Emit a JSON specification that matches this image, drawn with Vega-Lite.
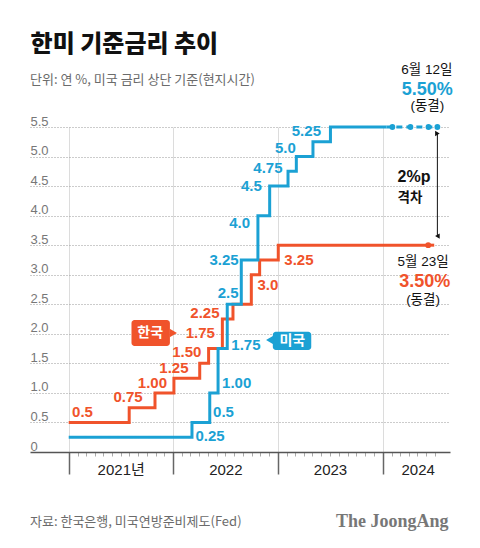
{
  "$schema": "https://vega.github.io/schema/vega-lite/v6.json",
  "width": 420,
  "height": 325,
  "autosize": {"type": "none"},
  "padding": {"left": 30, "top": 127, "right": 30, "bottom": 96},
  "background": "white",
  "config": {"view": {"stroke": null}},
  "datasets": {
    "lines": [
      {"d": "2021-01-01", "v": 0.5, "s": "kr", "seg": "solid"},
      {"d": "2021-07-31", "v": 0.75, "s": "kr", "seg": "solid"},
      {"d": "2021-10-29", "v": 1.0, "s": "kr", "seg": "solid"},
      {"d": "2022-01-03", "v": 1.25, "s": "kr", "seg": "solid"},
      {"d": "2022-04-03", "v": 1.5, "s": "kr", "seg": "solid"},
      {"d": "2022-05-04", "v": 1.75, "s": "kr", "seg": "solid"},
      {"d": "2022-06-21", "v": 2.25, "s": "kr", "seg": "solid"},
      {"d": "2022-07-28", "v": 2.5, "s": "kr", "seg": "solid"},
      {"d": "2022-09-30", "v": 3.0, "s": "kr", "seg": "solid"},
      {"d": "2022-10-29", "v": 3.25, "s": "kr", "seg": "solid"},
      {"d": "2023-01-02", "v": 3.5, "s": "kr", "seg": "solid"},
      {"d": "2024-06-08", "v": 3.5, "s": "kr", "seg": "solid"},
      {"d": "2024-06-08", "v": 3.5, "s": "kr", "seg": "dashed"},
      {"d": "2024-07-08", "v": 3.5, "s": "kr", "seg": "dashed"},
      {"d": "2021-01-01", "v": 0.25, "s": "us", "seg": "solid"},
      {"d": "2022-03-07", "v": 0.5, "s": "us", "seg": "solid"},
      {"d": "2022-05-08", "v": 1.0, "s": "us", "seg": "solid"},
      {"d": "2022-06-06", "v": 1.75, "s": "us", "seg": "solid"},
      {"d": "2022-07-08", "v": 2.5, "s": "us", "seg": "solid"},
      {"d": "2022-08-26", "v": 3.25, "s": "us", "seg": "solid"},
      {"d": "2022-10-23", "v": 4.0, "s": "us", "seg": "solid"},
      {"d": "2022-12-03", "v": 4.5, "s": "us", "seg": "solid"},
      {"d": "2023-02-05", "v": 4.75, "s": "us", "seg": "solid"},
      {"d": "2023-03-06", "v": 5.0, "s": "us", "seg": "solid"},
      {"d": "2023-05-03", "v": 5.25, "s": "us", "seg": "solid"},
      {"d": "2023-07-03", "v": 5.5, "s": "us", "seg": "solid"},
      {"d": "2024-01-14", "v": 5.5, "s": "us", "seg": "solid"},
      {"d": "2024-01-14", "v": 5.5, "s": "us", "seg": "dashed"},
      {"d": "2024-07-10", "v": 5.5, "s": "us", "seg": "dashed"}
    ],
    "dots": [
      {"d": "2024-02-04", "v": 5.5, "s": "us"},
      {"d": "2024-04-07", "v": 5.5, "s": "us"},
      {"d": "2024-06-09", "v": 5.5, "s": "us"},
      {"d": "2024-07-10", "v": 5.5, "s": "us"},
      {"d": "2024-06-08", "v": 3.5, "s": "kr"}
    ],
    "vlabels": [
      {"d": "2021-02-18", "v": 0.682, "s": "kr", "t": "0.5"},
      {"d": "2021-07-27", "v": 0.936, "s": "kr", "t": "0.75"},
      {"d": "2021-10-20", "v": 1.173, "s": "kr", "t": "1.00"},
      {"d": "2022-01-03", "v": 1.417, "s": "kr", "t": "1.25"},
      {"d": "2022-02-17", "v": 1.697, "s": "kr", "t": "1.50"},
      {"d": "2022-04-05", "v": 2.009, "s": "kr", "t": "1.75"},
      {"d": "2022-04-21", "v": 2.347, "s": "kr", "t": "2.25"},
      {"d": "2022-11-27", "v": 2.826, "s": "kr", "t": "3.0"},
      {"d": "2023-03-15", "v": 3.249, "s": "kr", "t": "3.25"},
      {"d": "2022-05-09", "v": 0.271, "s": "us", "t": "0.25"},
      {"d": "2022-06-25", "v": 0.682, "s": "us", "t": "0.5"},
      {"d": "2022-08-10", "v": 1.173, "s": "us", "t": "1.00"},
      {"d": "2022-09-11", "v": 1.811, "s": "us", "t": "1.75"},
      {"d": "2022-07-11", "v": 2.686, "s": "us", "t": "2.5"},
      {"d": "2022-06-27", "v": 3.249, "s": "us", "t": "3.25"},
      {"d": "2022-08-20", "v": 3.875, "s": "us", "t": "4.0"},
      {"d": "2022-09-30", "v": 4.502, "s": "us", "t": "4.5"},
      {"d": "2022-11-27", "v": 4.801, "s": "us", "t": "4.75"},
      {"d": "2023-01-27", "v": 5.15, "s": "us", "t": "5.0"},
      {"d": "2023-04-10", "v": 5.432, "s": "us", "t": "5.25"}
    ],
    "boxes": [
      {"d": "2021-08-08", "d2": "2021-12-20", "v": 2.234, "v2": 1.794, "s": "kr"},
      {"d": "2022-12-14", "d2": "2023-04-27", "v": 2.036, "v2": 1.726, "s": "us"}
    ],
    "tips": [
      {"d": "2022-01-01", "v": 2.014, "s": "kr"},
      {"d": "2022-12-03", "v": 1.895, "s": "us"}
    ],
    "tags": [
      {"d": "2021-10-12", "v": 2.014, "t": "한국"},
      {"d": "2023-02-20", "v": 1.881, "t": "미국"}
    ],
    "notes": [
      {"d": "2024-06-03", "v": 6.465, "t": "6월 12일"},
      {"d": "2024-06-05", "v": 5.855, "t": "(동결)"},
      {"d": "2024-05-21", "v": 3.215, "t": "5월 23일"},
      {"d": "2024-05-21", "v": 2.572, "t": "(동결)"}
    ],
    "pcts": [
      {"d": "2024-06-05", "v": 6.126, "s": "us", "t": "5.50%"},
      {"d": "2024-05-27", "v": 2.882, "s": "kr", "t": "3.50%"}
    ],
    "gap": [
      {"d": "2024-02-22", "v": 4.65, "t": "2%p"},
      {"d": "2024-02-22", "v": 4.3, "t": "격차"}
    ],
    "arrow": [
      {"d": "2024-07-10", "v": 5.4, "v2": 3.64}
    ],
    "heads": [
      {"d": "2024-07-10", "v": 5.39, "dir": "up"},
      {"d": "2024-07-10", "v": 3.655, "dir": "down"}
    ],
    "titles": [
      {"d": "2020-08-21", "v": 6.888, "t": "한미 기준금리 추이"}
    ],
    "subtitles": [
      {"d": "2020-08-19", "v": 6.296, "t": "단위: 연 %, 미국 금리 상단 기준(현지시간)"}
    ],
    "source": [
      {"d": "2020-08-19", "v": -1.185, "t": "자료: 한국은행, 미국연방준비제도(Fed)"}
    ],
    "brand": [
      {"d": "2024-08-18", "v": -1.185, "t": "The JoongAng"}
    ]
  },
  "encoding": {
    "x": {
      "field": "d",
      "type": "temporal",
      "title": null,
      "scale": {
        "type": "utc",
        "domain": [
          {"year": 2020, "month": 8, "date": 19, "utc": true},
          {"year": 2024, "month": 8, "date": 23, "utc": true}
        ]
      },
      "axis": {
        "title": null,
        "tickCount": {"interval": "month", "step": 1},
        "labelExpr": "utcmonth(datum.value) == 0 && utcyear(datum.value) >= 2021 ? (utcyear(datum.value) == 2021 ? '2021년' : '' + utcyear(datum.value)) : ''",
        "labelFont": "Liberation Sans, Noto Sans CJK KR",
        "labelFontSize": 15,
        "labelColor": "#222",
        "labelAlign": "center",
        "labelBaseline": "top",
        "labelOffset": {"condition": {"test": "utcyear(datum.value) == 2024", "value": 35}, "value": 52},
        "labelPadding": -12,
        "labelFlush": false,
        "labelOverlap": false,
        "tickSize": {"condition": {"test": "utcmonth(datum.value) == 0", "value": 22}, "value": 4},
        "tickColor": {"condition": {"test": "utcmonth(datum.value) == 0", "value": "#666"}, "value": "#aaa"},
        "tickWidth": {"condition": {"test": "utcmonth(datum.value) == 0", "value": 1.5}, "value": 1},
        "tickOpacity": {"condition": {"test": "utcyear(datum.value) < 2021 || (utcyear(datum.value) == 2024 && utcmonth(datum.value) > 6)", "value": 0}, "value": 1},
        "grid": true,
        "gridColor": "#dcdcdc",
        "gridWidth": 1,
        "gridOpacity": {"condition": {"test": "utcmonth(datum.value) == 0 && utcyear(datum.value) >= 2021", "value": 1}, "value": 0},
        "domainColor": "#555",
        "domainWidth": 1.5
      }
    },
    "y": {
      "field": "v",
      "type": "quantitative",
      "title": null,
      "scale": {"domain": [0, 5.5], "nice": false, "zero": true},
      "axis": {
        "title": null,
        "values": [0, 0.5, 1, 1.5, 2, 2.5, 3, 3.5, 4, 4.5, 5, 5.5],
        "labelExpr": "datum.value == 0 ? '0' : format(datum.value, '.1f')",
        "ticks": false,
        "tickSize": 0,
        "domain": false,
        "labelAlign": "left",
        "labelBaseline": "alphabetic",
        "labelPadding": 0,
        "labelOffset": -2,
        "labelFont": "Liberation Sans",
        "labelFontSize": 13,
        "labelColor": "#777",
        "grid": true,
        "gridDash": [1, 2],
        "gridColor": "#999",
        "gridOpacity": {"condition": {"test": "datum.value == 0", "value": 0}, "value": 1}
      }
    }
  },
  "layer": [
    {
      "data": {"name": "lines"},
      "mark": {"type": "line", "interpolate": "step-after", "strokeWidth": 3, "strokeCap": "butt"},
      "encoding": {
        "color": {"field": "s", "type": "nominal", "scale": {"domain": ["kr", "us"], "range": ["#f0532b", "#1ba1d4"]}, "legend": null},
        "strokeDash": {"field": "seg", "type": "nominal", "scale": {"domain": ["solid", "dashed"], "range": [[1, 0], [6, 4]]}, "legend": null}
      }
    },
    {
      "data": {"name": "dots"},
      "mark": {"type": "point", "filled": true, "size": 34, "opacity": 1},
      "encoding": {
        "color": {"field": "s", "type": "nominal", "scale": {"domain": ["kr", "us"], "range": ["#f0532b", "#1ba1d4"]}, "legend": null}
      }
    },
    {
      "data": {"name": "vlabels"},
      "mark": {"type": "text", "font": "Liberation Sans", "fontSize": 15, "fontWeight": "bold", "align": "center", "baseline": "middle"},
      "encoding": {
        "text": {"field": "t"},
        "color": {"field": "s", "type": "nominal", "scale": {"domain": ["kr", "us"], "range": ["#f0532b", "#1ba1d4"]}, "legend": null}
      }
    },
    {
      "data": {"name": "boxes"},
      "mark": {"type": "rect", "cornerRadius": 3},
      "encoding": {
        "x2": {"field": "d2", "title": null},
        "y2": {"field": "v2", "title": null},
        "color": {"field": "s", "type": "nominal", "scale": {"domain": ["kr", "us"], "range": ["#f0532b", "#1ba1d4"]}, "legend": null}
      }
    },
    {
      "data": {"name": "tips"},
      "mark": {"type": "point", "filled": true, "size": 70, "opacity": 1},
      "encoding": {
        "shape": {"field": "s", "type": "nominal", "scale": {"domain": ["kr", "us"], "range": ["triangle-right", "triangle-left"]}, "legend": null},
        "color": {"field": "s", "type": "nominal", "scale": {"domain": ["kr", "us"], "range": ["#f0532b", "#1ba1d4"]}, "legend": null}
      }
    },
    {
      "data": {"name": "tags"},
      "mark": {"type": "text", "font": "Noto Sans CJK KR", "fontSize": 14, "fontWeight": "bold", "color": "white", "align": "center", "baseline": "middle"},
      "encoding": {"text": {"field": "t"}}
    },
    {
      "data": {"name": "notes"},
      "mark": {"type": "text", "font": "Liberation Sans, Noto Sans CJK KR", "fontSize": 13.5, "color": "#111", "align": "center", "baseline": "middle"},
      "encoding": {"text": {"field": "t"}}
    },
    {
      "data": {"name": "pcts"},
      "mark": {"type": "text", "font": "Liberation Sans", "fontSize": 18, "fontWeight": "bold", "align": "center", "baseline": "middle"},
      "encoding": {
        "text": {"field": "t"},
        "color": {"field": "s", "type": "nominal", "scale": {"domain": ["kr", "us"], "range": ["#f0532b", "#1ba1d4"]}, "legend": null}
      }
    },
    {
      "data": {"name": "gap"},
      "transform": [{"filter": "datum.t == '2%p'"}],
      "mark": {"type": "text", "font": "Liberation Sans", "fontSize": 16, "fontWeight": "bold", "color": "#111", "align": "left", "baseline": "middle"},
      "encoding": {"text": {"field": "t"}}
    },
    {
      "data": {"name": "gap"},
      "transform": [{"filter": "datum.t != '2%p'"}],
      "mark": {"type": "text", "font": "Noto Sans CJK KR", "fontSize": 13.5, "fontWeight": "bold", "color": "#111", "align": "left", "baseline": "middle"},
      "encoding": {"text": {"field": "t"}}
    },
    {
      "data": {"name": "arrow"},
      "mark": {"type": "rule", "color": "#111", "strokeWidth": 1},
      "encoding": {"y2": {"field": "v2", "title": null}}
    },
    {
      "data": {"name": "heads"},
      "mark": {"type": "point", "filled": true, "size": 28, "color": "#111", "opacity": 1},
      "encoding": {
        "shape": {"field": "dir", "type": "nominal", "scale": {"domain": ["up", "down"], "range": ["triangle-up", "triangle-down"]}, "legend": null}
      }
    },
    {
      "data": {"name": "titles"},
      "mark": {"type": "text", "font": "Noto Sans CJK KR", "fontSize": 24, "fontWeight": 900, "color": "#111", "align": "left", "baseline": "middle"},
      "encoding": {"text": {"field": "t"}}
    },
    {
      "data": {"name": "subtitles"},
      "mark": {"type": "text", "font": "Noto Sans CJK KR", "fontSize": 13, "color": "#6b6b6b", "align": "left", "baseline": "middle"},
      "encoding": {"text": {"field": "t"}}
    },
    {
      "data": {"name": "source"},
      "mark": {"type": "text", "font": "Noto Sans CJK KR", "fontSize": 13, "color": "#6b6b6b", "align": "left", "baseline": "middle"},
      "encoding": {"text": {"field": "t"}}
    },
    {
      "data": {"name": "brand"},
      "mark": {"type": "text", "font": "Liberation Serif", "fontSize": 18, "fontWeight": "bold", "color": "#777", "align": "right", "baseline": "middle"},
      "encoding": {"text": {"field": "t"}}
    }
  ]
}
